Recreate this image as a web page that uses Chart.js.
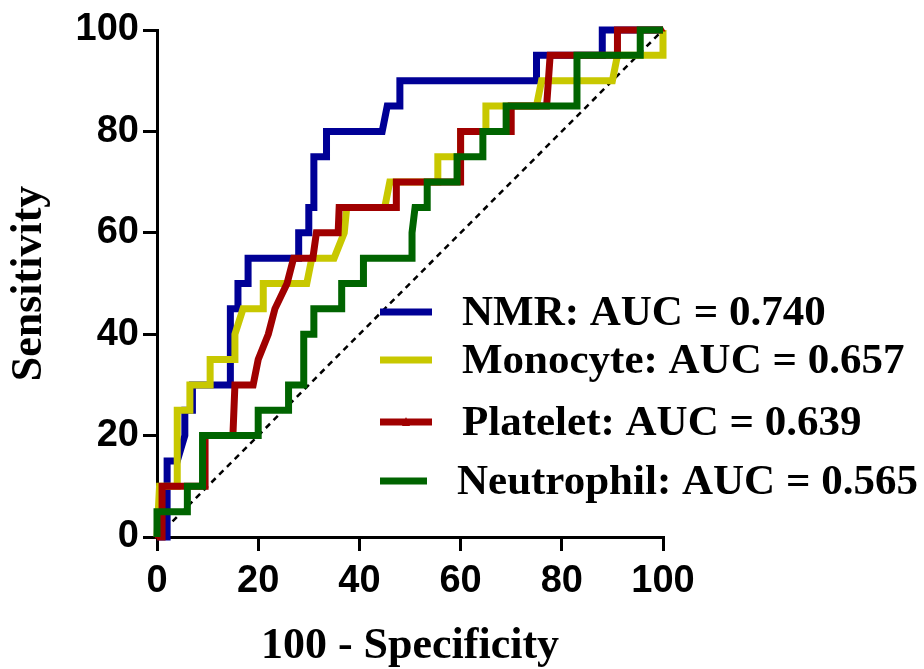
<!DOCTYPE html>
<html>
<head>
<meta charset="utf-8">
<script src="https://cdn.jsdelivr.net/npm/chart.js@4/dist/chart.umd.min.js"></script>
<style>
  html, body { margin: 0; padding: 0; background: #fff; }
  #wrap { width: 924px; height: 669px; position: relative; }
</style>
</head>
<body>
<div id="wrap"><canvas id="roc"></canvas></div>
<script>
// ROC curves, x = 100 - specificity, y = sensitivity
const labels = ["NMR", "Monocyte", "Platelet", "Neutrophil"];
const aucs = ["0.740", "0.657", "0.639", "0.565"];
const colors = ["#000096", "#C8C800", "#A00000", "#006400"];

const nmrX = [0, 2, 2, 4, 5.5, 5.5, 7, 7, 14.5, 14.5, 16, 16, 18, 18, 28, 28, 30, 30, 31, 31, 33.5, 33.5, 44.5, 45.5, 48, 48, 75, 75, 88, 88, 100];
const nmrY = [0, 0, 15, 15, 20, 25, 25, 30, 30, 45, 45, 50, 50, 55, 55, 60, 60, 65, 65, 75, 75, 80, 80, 85, 85, 90, 90, 95, 95, 100, 100];

const monoX = [0, 0.5, 4, 4, 6.5, 6.5, 10.5, 10.5, 15.4, 15.4, 17, 21, 21, 29.6, 30.6, 35, 37, 37.5, 45, 46, 55.5, 55.5, 60, 60, 65, 65, 75, 76, 90, 91, 100, 100];
const monoY = [0, 10, 10, 25, 25, 30, 30, 35, 35, 40, 45, 45, 50, 50, 55, 55, 60, 65, 65, 70, 70, 75, 75, 80, 80, 85, 85, 90, 90, 95, 95, 100];

const plateX = [0, 1, 1, 9.5, 9.5, 15, 15.4, 19, 20, 22, 23.3, 25.7, 27, 30.8, 31.5, 35.8, 36, 47.3, 47.3, 60, 60, 70, 70, 77, 77.7, 91, 91, 100];
const plateY = [0, 0, 10, 10, 20, 20, 30, 30, 35, 40, 45, 50, 55, 55, 60, 60, 65, 65, 70, 70, 80, 80, 85, 85, 95, 95, 100, 100];

const neutX = [0, 0, 6, 6, 9, 9, 20, 20, 26, 26, 29, 29, 31, 31, 36.5, 36.5, 40.8, 40.8, 50.4, 50.4, 51, 53.4, 53.4, 59.3, 59.3, 64.4, 64.4, 69, 69, 83, 83, 95.5, 95.5, 100];
const neutY = [0, 5, 5, 10, 10, 20, 20, 25, 25, 30, 30, 40, 40, 45, 45, 50, 50, 55, 55, 60, 65, 65, 70, 70, 75, 75, 80, 80, 85, 85, 95, 95, 100, 100];

const refX = [0, 100];
const refY = [0, 100];

const xTicks = [0, 20, 40, 60, 80, 100];
const yTicks = [0, 20, 40, 60, 80, 100];

function toPoints(xs, ys) {
  return xs.map((x, i) => ({ x: x, y: ys[i] }));
}

const curves = [
  [nmrX, nmrY],
  [monoX, monoY],
  [plateX, plateY],
  [neutX, neutY],
];

const datasets = curves.map((c, i) => ({
  label: labels[i] + ": AUC = " + aucs[i],
  data: toPoints(c[0], c[1]),
  borderColor: colors[i],
  backgroundColor: colors[i],
  borderWidth: 7,
  borderJoinStyle: "miter",
  borderCapStyle: "butt",
  pointRadius: i === 2 ? 3 : 0,
  pointBorderWidth: 0,
  pointStyle: "triangle",
  showLine: true,
  tension: 0,
  clip: false,
  order: 3 - i, // neutrophil drawn on top, NMR at the bottom
}));

datasets.push({
  label: "reference",
  data: toPoints(refX, refY),
  borderColor: "#000",
  borderWidth: 2.5,
  borderDash: [6, 5],
  pointRadius: 0,
  showLine: true,
  order: 10,
});

// legend drawn inside the plot, at the lower right
const insideLegend = {
  id: "insideLegend",
  afterDraw(chart) {
    const ctx = chart.ctx;
    const rows = [312, 360, 422, 481];
    const lineEnd = [432, 432, 432, 427];
    const textX = [462, 462, 462, 457];
    ctx.save();
    ctx.font = "bold 43px 'Liberation Serif', 'Times New Roman', serif";
    ctx.textBaseline = "middle";
    ctx.fillStyle = "#000";
    for (let i = 0; i < 4; i++) {
      ctx.strokeStyle = colors[i];
      ctx.lineWidth = 7;
      ctx.beginPath();
      ctx.moveTo(380, rows[i]);
      ctx.lineTo(lineEnd[i], rows[i]);
      ctx.stroke();
      if (i === 2) {
        ctx.fillStyle = colors[i];
        ctx.beginPath();
        ctx.moveTo(406, rows[i] - 5);
        ctx.lineTo(410, rows[i] + 4);
        ctx.lineTo(402, rows[i] + 4);
        ctx.fill();
        ctx.fillStyle = "#000";
      }
      ctx.fillText(datasets[i].label, textX[i], rows[i] + 2);
    }
    ctx.restore();
  },
};

const tickFont = { family: "'Liberation Sans', Arial, sans-serif", weight: "bold", size: 38 };
const titleFont = { family: "'Liberation Serif', 'Times New Roman', serif", weight: "bold", size: 44, lineHeight: 1 };

new Chart(document.getElementById("roc"), {
  type: "scatter",
  data: { datasets: datasets },
  options: {
    responsive: true,
    maintainAspectRatio: false,
    animation: false,
    layout: { padding: { top: 30, right: 261, left: 0, bottom: 0 } },
    plugins: {
      legend: { display: false },
      tooltip: { enabled: false },
    },
    scales: {
      x: {
        type: "linear",
        min: 0,
        max: 100,
        afterBuildTicks: (s) => { s.ticks = xTicks.map(v => ({ value: v })); },
        afterFit: (s) => { s.height = 132; },
        grid: { drawOnChartArea: false, drawTicks: true, tickLength: 14, color: "#000", lineWidth: 3 },
        border: { display: true, color: "#000", width: 3 },
        ticks: { color: "#000", font: tickFont, padding: 8, maxRotation: 0 },
        title: { display: true, text: "100 - Specificity", color: "#000", font: titleFont, padding: { top: 0, bottom: 0 } },
      },
      y: {
        type: "linear",
        min: 0,
        max: 100,
        afterBuildTicks: (s) => { s.ticks = yTicks.map(v => ({ value: v })); },
        afterFit: (s) => { s.width = 157; },
        grid: { drawOnChartArea: false, drawTicks: true, tickLength: 14, color: "#000", lineWidth: 3 },
        border: { display: true, color: "#000", width: 3 },
        ticks: { color: "#000", font: tickFont, padding: 4 },
        title: { display: true, text: "Sensitivity", color: "#000", font: titleFont, padding: { top: 8, bottom: 0 } },
      },
    },
  },
  plugins: [insideLegend],
});
</script>
</body>
</html>
